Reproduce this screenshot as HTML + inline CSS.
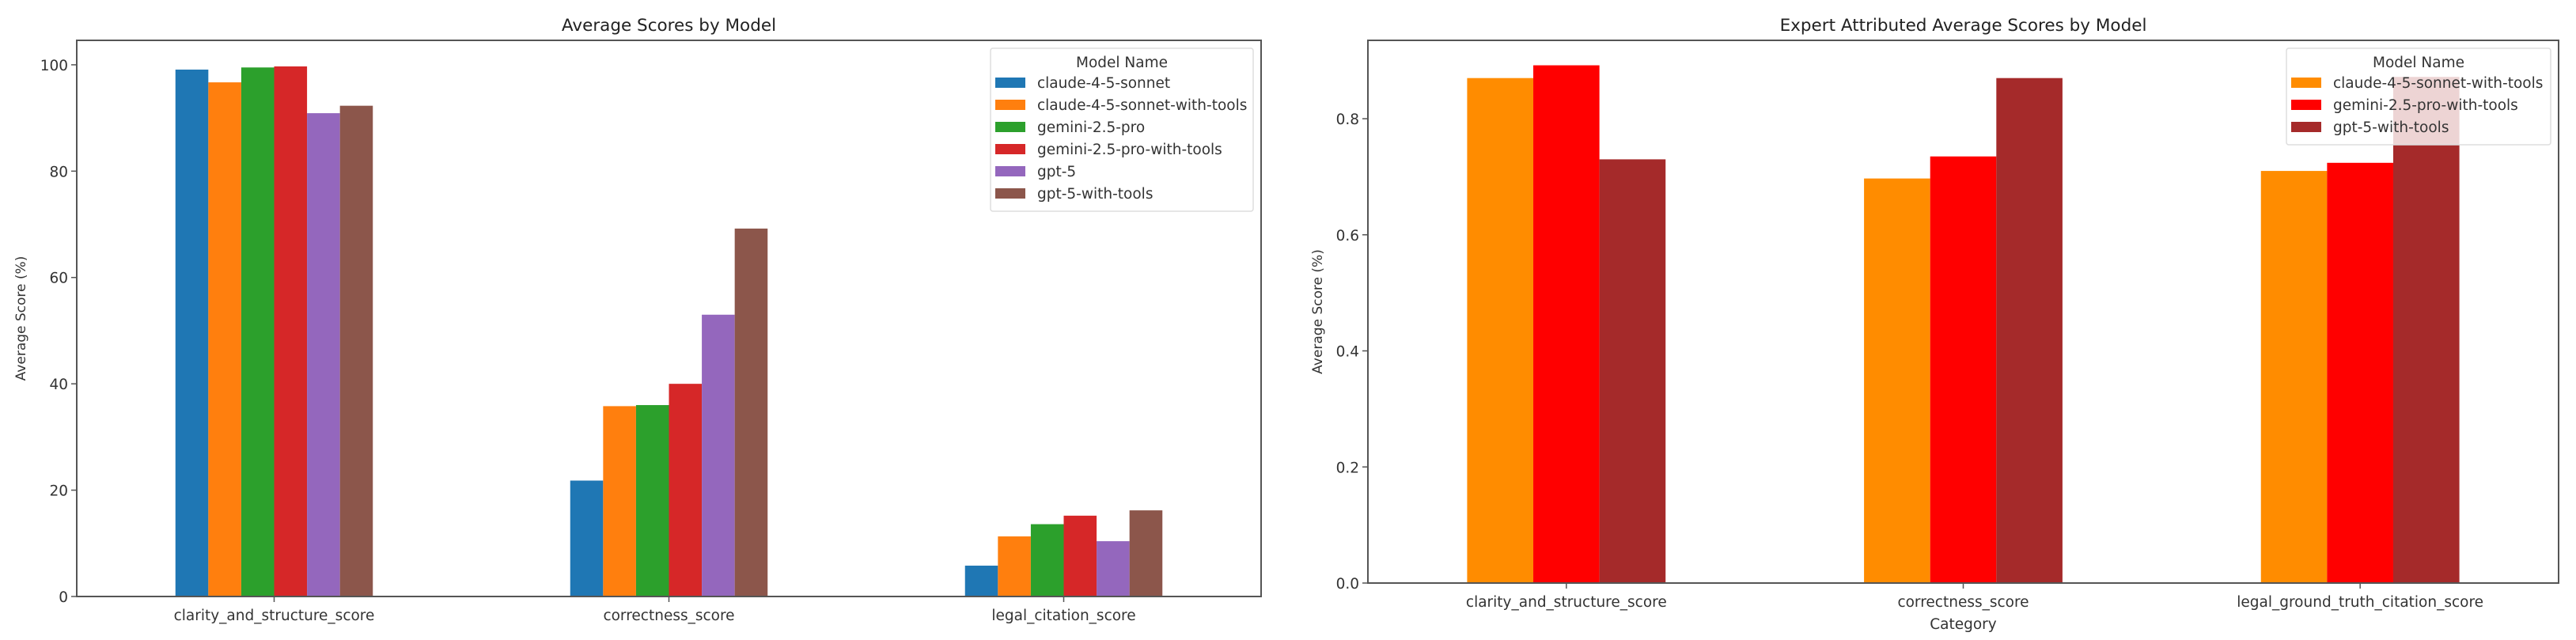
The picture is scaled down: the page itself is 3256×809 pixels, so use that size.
<!DOCTYPE html>
<html><head><meta charset="utf-8"><style>
html,body{margin:0;padding:0;background:#fff;}
svg{display:block;font-family:"DejaVu Sans","Liberation Sans",sans-serif;}
</style></head><body>
<svg id="chart" width="3256" height="809" viewBox="0 0 3256 809" xmlns="http://www.w3.org/2000/svg"></svg>
<script>
// ---- Left chart data ----
const leftCategories = ["clarity_and_structure_score","correctness_score","legal_citation_score"];
const leftModels = ["claude-4-5-sonnet","claude-4-5-sonnet-with-tools","gemini-2.5-pro","gemini-2.5-pro-with-tools","gpt-5","gpt-5-with-tools"];
const leftClaude = [99.1, 21.8, 5.8];
const leftClaudeTools = [96.7, 35.8, 11.3];
const leftGemini = [99.5, 36.0, 13.6];
const leftGeminiTools = [99.7, 40.0, 15.2];
const leftGpt5 = [90.9, 53.0, 10.4];
const leftGpt5Tools = [92.3, 69.2, 16.2];
const leftTicks = [0, 20, 40, 60, 80, 100];
// ---- Right chart data ----
const rightCategories = ["clarity_and_structure_score","correctness_score","legal_ground_truth_citation_score"];
const rightModels = ["claude-4-5-sonnet-with-tools","gemini-2.5-pro-with-tools","gpt-5-with-tools"];
const rightClaudeTools = [0.870, 0.697, 0.710];
const rightGeminiTools = [0.892, 0.735, 0.724];
const rightGpt5Tools = [0.730, 0.870, 0.872];
const rightTicks = [0.0, 0.2, 0.4, 0.6, 0.8];
const rightTickLabels = ["0.0","0.2","0.4","0.6","0.8"];

const NS = "http://www.w3.org/2000/svg";
const svg = document.getElementById("chart");
function mk(tag, attrs, parent){
  const e = document.createElementNS(NS, tag);
  for (const k in attrs) e.setAttribute(k, attrs[k]);
  (parent||svg).appendChild(e);
  return e;
}
const FS = 18.5;

function drawChart(cfg){
  const g = mk("g", {});
  
  
  const {x0, x1, y0, y1, ymax} = cfg;
  const yS = v => y1 - v / ymax * (y1 - y0);
  const nC = cfg.categories.length;
  const step = (x1 - x0) / nC;
  const xC = i => x0 + step * (i + 0.5);
  const nS = cfg.series.length;
  const bw = step * 0.5 / nS;
  cfg.series.forEach((vals, s) => {
    vals.forEach((v, i) => {
      const bx = xC(i) - step * 0.25 + s * bw;
      const r = mk("rect", {x: bx, y: yS(v), width: bw, height: y1 - yS(v), fill: cfg.colors[s]}, g);
      
      
    });
  });
  const fr = mk("rect", {x: x0, y: y0, width: x1 - x0, height: y1 - y0, fill: "none", stroke: "#555", "stroke-width": 2}, g);
  
  
  cfg.ticks.forEach((t, k) => {
    const y = yS(t);
    mk("line", {x1: x0 - 7, x2: x0, y1: y, y2: y, stroke: "#555", "stroke-width": 1.5}, g);
    const tl = mk("text", {x: x0 - 11, y: y + 7, "text-anchor": "end", "font-size": FS, fill: "#333"}, g);
    tl.textContent = cfg.tickLabels[k];
    
    
  });
  cfg.categories.forEach((c, i) => {
    const x = xC(i);
    mk("line", {x1: x, x2: x, y1: y1, y2: y1 + 7, stroke: "#555", "stroke-width": 1.5}, g);
    const tl = mk("text", {x: x, y: y1 + 30, "text-anchor": "middle", "font-size": FS, fill: "#333"}, g);
    tl.textContent = c;
    
    
  });
  const ti = mk("text", {x: (x0 + x1) / 2, y: 39, "text-anchor": "middle", "font-size": 21.5, fill: "#222"}, g);
  ti.textContent = cfg.title;
  
  
  const yl = mk("text", {x: 0, y: 0, "text-anchor": "middle", "font-size": 17, fill: "#333", transform: `translate(${cfg.ylabX},${(y0 + y1) / 2}) rotate(-90)`}, g);
  yl.textContent = "Average Score (%)";
  
  
  if (cfg.xlabel) {
    const xl = mk("text", {x: (x0 + x1) / 2, y: 795, "text-anchor": "middle", "font-size": FS, fill: "#333"}, g);
    xl.textContent = cfg.xlabel;
    
    
  }
  const L = cfg.legend;
  const lg = mk("g", {}, g);
  
  
  mk("rect", {x: L.x, y: L.y, width: L.w, height: 38 + 28 * nS, rx: 3, fill: "#fff", "fill-opacity": 0.8, stroke: "#ddd", "stroke-width": 1.5}, lg);
  const lt = mk("text", {x: L.x + L.w / 2, y: L.y + 24, "text-anchor": "middle", "font-size": FS, fill: "#333"}, lg);
  lt.textContent = "Model Name";
  
  
  cfg.models.forEach((m, s) => {
    const cy = L.y + 43 + 28 * s;
    const e = mk("g", {}, lg);
    
    
    mk("rect", {x: L.x + 6, y: cy - 6, width: 38, height: 13, fill: cfg.colors[s]}, e);
    const tx = mk("text", {x: L.x + 59, y: cy + 7, "font-size": FS, fill: "#333"}, e);
    tx.textContent = m;
  });
}

drawChart({
  name: "left-chart", title: "Average Scores by Model",
  x0: 97, x1: 1594, y0: 51, y1: 754, ymax: 104.6,
  categories: leftCategories, models: leftModels,
  series: [leftClaude, leftClaudeTools, leftGemini, leftGeminiTools, leftGpt5, leftGpt5Tools],
  colors: ["#1f77b4","#ff7f0e","#2ca02c","#d62728","#9467bd","#8c564b"],
  ticks: leftTicks, tickLabels: leftTicks.map(String),
  ylabX: 32, legend: {x: 1252, y: 61, w: 332}
});
drawChart({
  name: "right-chart", title: "Expert Attributed Average Scores by Model",
  x0: 1729, x1: 3234, y0: 51, y1: 737, ymax: 0.935,
  categories: rightCategories, models: rightModels,
  series: [rightClaudeTools, rightGeminiTools, rightGpt5Tools],
  colors: ["#ff8c00","#ff0000","#a52a2a"],
  ticks: rightTicks, tickLabels: rightTickLabels,
  ylabX: 1671, xlabel: "Category", legend: {x: 2890, y: 61, w: 334}
});
</script>
</body></html>
